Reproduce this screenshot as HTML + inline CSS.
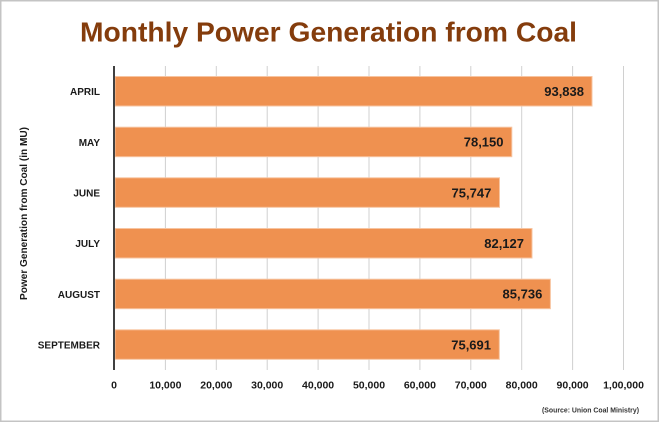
<!DOCTYPE html>
<html><head><meta charset="utf-8"><style>
html,body{margin:0;padding:0;background:#fff;}
svg{display:block;}
text{font-family:"Liberation Sans",Arial,sans-serif;font-weight:bold;}
</style></head><body>
<svg width="660" height="423" viewBox="0 0 660 423" xmlns="http://www.w3.org/2000/svg">
<rect x="0" y="0" width="660" height="423" fill="#fff"/>
<rect x="0.75" y="0.75" width="657.5" height="420.5" fill="none" stroke="#c4c4c4" stroke-width="1.5"/>
<text x="328.5" y="41.7" font-size="28" fill="#843C0C" text-anchor="middle" textLength="497" lengthAdjust="spacingAndGlyphs">Monthly Power Generation from Coal</text>
<g stroke="#d0d0d0" stroke-width="1">
<line x1="165.4" y1="66" x2="165.4" y2="370"/>
<line x1="216.3" y1="66" x2="216.3" y2="370"/>
<line x1="267.2" y1="66" x2="267.2" y2="370"/>
<line x1="318.1" y1="66" x2="318.1" y2="370"/>
<line x1="369" y1="66" x2="369" y2="370"/>
<line x1="419.9" y1="66" x2="419.9" y2="370"/>
<line x1="470.8" y1="66" x2="470.8" y2="370"/>
<line x1="521.7" y1="66" x2="521.7" y2="370"/>
<line x1="572.6" y1="66" x2="572.6" y2="370"/>
<line x1="623.5" y1="66" x2="623.5" y2="370"/>
</g>
<g fill="#EF9150" stroke="#F7C4A0" stroke-width="1">
<rect x="115" y="76.5" width="477" height="29.5"/>
<rect x="115" y="127.2" width="396.8" height="29.5"/>
<rect x="115" y="177.8" width="384.5" height="29.5"/>
<rect x="115" y="228.5" width="417" height="29.5"/>
<rect x="115" y="279.2" width="435.4" height="29.5"/>
<rect x="115" y="329.8" width="384.3" height="29.5"/>
</g>
<line x1="114" y1="66" x2="114" y2="370" stroke="#404040" stroke-width="2"/>
<g font-size="13" fill="#1a1a1a" text-anchor="end">
<text x="584" y="96">93,838</text>
<text x="503.5" y="146.7">78,150</text>
<text x="491.3" y="197.3">75,747</text>
<text x="524" y="248">82,127</text>
<text x="542.3" y="298.7">85,736</text>
<text x="491" y="349.3">75,691</text>
</g>
<g font-size="10" fill="#1a1a1a" text-anchor="end">
<text x="100" y="95.2">APRIL</text>
<text x="100" y="145.9">MAY</text>
<text x="100" y="196.5">JUNE</text>
<text x="100" y="247.2">JULY</text>
<text x="100" y="297.9">AUGUST</text>
<text x="100" y="348.5">SEPTEMBER</text>
</g>
<g font-size="10.5" fill="#1a1a1a" text-anchor="middle">
<text x="114" y="388.5">0</text>
<text x="165.4" y="388.5">10,000</text>
<text x="216.3" y="388.5">20,000</text>
<text x="267.2" y="388.5">30,000</text>
<text x="318.1" y="388.5">40,000</text>
<text x="369" y="388.5">50,000</text>
<text x="419.9" y="388.5">60,000</text>
<text x="470.8" y="388.5">70,000</text>
<text x="521.7" y="388.5">80,000</text>
<text x="572.6" y="388.5">90,000</text>
<text x="623.5" y="388.5">1,00,000</text>
</g>
<text transform="translate(27,213.5) rotate(-90)" font-size="10" fill="#1a1a1a" text-anchor="middle" textLength="173" lengthAdjust="spacingAndGlyphs">Power Generation from Coal (in MU)</text>
<text x="639" y="412.5" font-size="7.5" fill="#333" text-anchor="end" font-weight="normal" textLength="97" lengthAdjust="spacingAndGlyphs">(Source: Union Coal Ministry)</text>
</svg>
</body></html>
